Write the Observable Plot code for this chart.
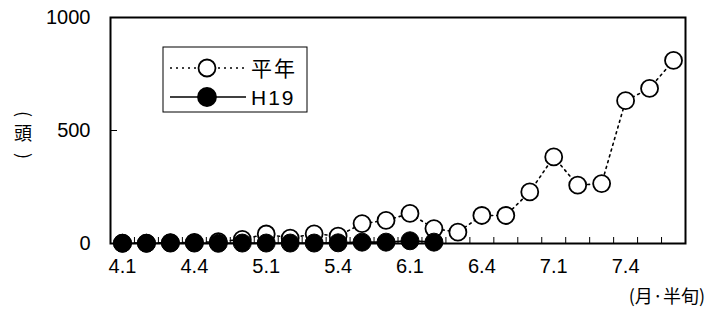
<!DOCTYPE html>
<html>
<head>
<meta charset="utf-8">
<script src="https://cdn.jsdelivr.net/npm/d3@7"></script>
<script src="https://cdn.jsdelivr.net/npm/@observablehq/plot@0.6"></script>
<style>
  html, body { margin: 0; padding: 0; background: #fff; }
  #chart { position: relative; width: 708px; height: 320px; }
</style>
</head>
<body>
<div id="chart"></div>
<script>
// half-month periods (月.半旬)
const periods = ["4.1","4.2","4.3","4.4","4.5","4.6",
                 "5.1","5.2","5.3","5.4","5.5","5.6",
                 "6.1","6.2","6.3","6.4","6.5","6.6",
                 "7.1","7.2","7.3","7.4","7.5","7.6"];
// 平年 (normal year)
const heinen = [2, 2, 4, 5, 8, 18, 42, 24, 43, 33, 88, 102,
                133, 66, 50, 124, 124, 228, 383, 258, 265, 632, 686, 810];
// H19
const h19 = [1, 1, 2, 2, 1, 2, 2, 2, 2, 3, 6, 6, 12, 6];
const xTickLabels = ["4.1","4.4","5.1","5.4","6.1","6.4","7.1","7.4"];
const yTicks = [0, 500, 1000];
const seriesNames = ["平年", "H19"];

const latin = "'Liberation Sans', Arial, sans-serif";
const cjk = "'Noto Sans CJK JP', 'Liberation Sans', sans-serif";

const dataHeinen = heinen.map((v, i) => ({i, p: periods[i], v}));
const dataH19 = h19.map((v, i) => ({i, p: periods[i], v}));
const boundaries = d3.range(periods.length + 1).map(k => k - 0.5);
const xTickIdx = xTickLabels.map(l => periods.indexOf(l));

const W = 708, H = 320;
const mL = 110, mR = 23, mT = 17, mB = 77;
const innerW = W - mL - mR, innerH = H - mT - mB;

const plot = Plot.plot({
  width: W, height: H,
  marginLeft: mL, marginRight: mR, marginTop: mT, marginBottom: mB,
  style: {fontFamily: latin, fontSize: "20px", color: "#000", background: "#fff"},
  x: {type: "linear", domain: [-0.5, periods.length - 0.5]},
  y: {domain: [0, 1000]},
  marks: [
    Plot.axisY(yTicks, {tickSize: 0, tickPadding: 20, label: null, tickFormat: d => String(d), fontSize: 20, letterSpacing: 1}),
    Plot.axisX(xTickIdx, {tickSize: 0, tickPadding: 15, label: null, tickFormat: i => periods[i], fontSize: 20}),
    Plot.ruleX(boundaries.slice(1, -1), {stroke: "#000", strokeWidth: 1, insetTop: innerH - 6}),
    Plot.ruleY([500], {stroke: "#000", strokeWidth: 1, insetRight: innerW - 7}),
    Plot.line(dataHeinen, {x: "i", y: "v", stroke: "#000", strokeWidth: 1.6, strokeDasharray: "2,4"}),
    Plot.dot(dataHeinen, {x: "i", y: "v", r: 8.5, fill: "#fff", stroke: "#000", strokeWidth: 1.8}),
    Plot.line(dataH19, {x: "i", y: "v", stroke: "#000", strokeWidth: 1.6}),
    Plot.dot(dataH19, {x: "i", y: "v", r: 9, fill: "#000", stroke: "#000", strokeWidth: 1}),
    Plot.frame({stroke: "#000", strokeWidth: 2})
  ]
});

document.getElementById("chart").appendChild(plot);
const svg = d3.select(plot);

// y-axis unit label, written vertically: （頭）
const yl = svg.append("g")
  .style("font-family", cjk).style("font-size", "18px")
  .attr("fill", "#000").attr("text-anchor", "middle");
yl.append("text").attr("transform", "translate(23,114) rotate(90)").attr("dy", "0.36em").text("(");
yl.append("text").attr("x", 23).attr("y", 134).attr("dy", "0.36em").text("頭");
yl.append("text").attr("transform", "translate(23,156) rotate(90)").attr("dy", "0.36em").text(")");

// x-axis unit label
svg.append("text")
  .attr("x", 705).attr("y", 297).attr("dy", "0.36em")
  .attr("text-anchor", "end")
  .style("font-family", cjk)
  .style("font-size", "18px")
  .attr("fill", "#000")
  .text("(月·半旬)");

// legend
const lg = svg.append("g").attr("text-anchor", "start");
lg.append("rect").attr("x", 163).attr("y", 47).attr("width", 144).attr("height", 65)
  .attr("fill", "#fff").attr("stroke", "#000").attr("stroke-width", 1);
const rows = [
  {name: seriesNames[0], y: 68, dash: "2,4", fill: "#fff"},
  {name: seriesNames[1], y: 97, dash: null, fill: "#000"}
];
rows.forEach(r => {
  lg.append("line").attr("x1", 170).attr("x2", 246).attr("y1", r.y).attr("y2", r.y)
    .attr("stroke", "#000").attr("stroke-width", 1.6).attr("stroke-dasharray", r.dash);
  lg.append("circle").attr("cx", 207).attr("cy", r.y).attr("r", r.fill === "#000" ? 9 : 8.5)
    .attr("fill", r.fill).attr("stroke", "#000").attr("stroke-width", 1.8);
  lg.append("text").attr("x", 251).attr("y", r.y).attr("dy", "0.36em")
    .style("font-family", r.name === "H19" ? latin : cjk)
    .style("font-size", "21px").style("letter-spacing", "2px")
    .attr("fill", "#000").text(r.name);
});
</script>
</body>
</html>
